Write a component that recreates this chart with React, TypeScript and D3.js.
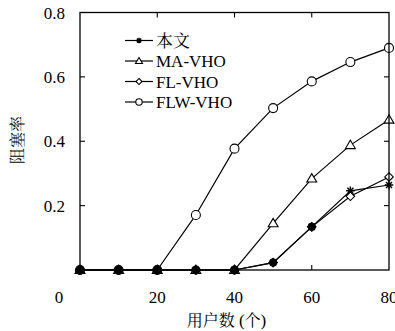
import React from 'react';
import * as d3 from 'd3';

const users = [0, 10, 20, 30, 40, 50, 60, 70, 80];
const ours = [0, 0, 0, 0, 0, 0.023, 0.134, 0.246, 0.264];
const maVho = [0, 0, 0, 0, 0, 0.145, 0.284, 0.388, 0.467];
const flVho = [0, 0, 0, 0, 0, 0.023, 0.134, 0.229, 0.289];
const flwVho = [0, 0, 0, 0.171, 0.377, 0.503, 0.586, 0.646, 0.69];
const seriesNames = ['本文', 'MA-VHO', 'FL-VHO', 'FLW-VHO'];
const markers = ['star', 'triangle', 'diamond', 'circle'];
const xTicks = [0, 20, 40, 60, 80];
const yTicks = [0.2, 0.4, 0.6, 0.8];

const serif = '"Liberation Serif"';
const cjk = '"Noto Serif CJK SC"';

const width = 395;
const height = 331;
const margin = { top: 12.5, right: 6, bottom: 61, left: 80 };

const x = d3.scaleLinear().domain([0, 80]).range([margin.left, width - margin.right]);
const y = d3.scaleLinear().domain([0, 0.8]).range([height - margin.bottom, margin.top]);

const Marker = ({ type, cx, cy, s }) => {
  if (type === 'circle') {
    return <circle cx={cx} cy={cy} r={s} fill="white" stroke="black" strokeWidth={1.1} />;
  }
  if (type === 'diamond') {
    const r = s * 0.95;
    return (
      <path d={`M${cx},${cy - r}L${cx + r},${cy}L${cx},${cy + r}L${cx - r},${cy}Z`}
        fill="white" stroke="black" strokeWidth={1.1} />
    );
  }
  if (type === 'triangle') {
    const r = s * 1.1;
    return (
      <path d={`M${cx},${cy - r}L${cx + r},${cy + r * 0.7}L${cx - r},${cy + r * 0.7}Z`}
        fill="white" stroke="black" strokeWidth={1.1} />
    );
  }
  const r = s * 0.95;
  const p = d3.path();
  for (let i = 0; i < 4; i++) {
    const a = (i * Math.PI) / 4;
    p.moveTo(cx - r * Math.cos(a), cy - r * Math.sin(a));
    p.lineTo(cx + r * Math.cos(a), cy + r * Math.sin(a));
  }
  return <path d={p.toString()} stroke="black" strokeWidth={1.4} />;
};

const App = () => {
  const all = [ours, maVho, flVho, flwVho];
  const line = d3.line<number>().x((_, i) => x(users[i])).y(d => y(d));

  // where several series overlap the marks fill in
  const blobs = [];
  users.forEach((u, i) => {
    const groups = d3.groups(all.map(s => s[i]), v => v.toFixed(3));
    groups.forEach(([key, members]) => {
      if (members.length >= 2) blobs.push({ u, v: +key, n: members.length });
    });
  });

  const tk = 5;

  return (
    <svg width={width} height={height}
      style={{ position: 'absolute', left: 0, top: 0, background: 'white' }}>
      {all.map((vals, si) => (
        <path key={si} d={line(vals)} fill="none" stroke="black" strokeWidth={1.2} />
      ))}
      {all.map((vals, si) => vals.map((v, i) => (
        <Marker key={`${si}-${i}`} type={markers[si]} cx={x(users[i])} cy={y(v)} s={4.5} />
      )))}
      {blobs.map((b, i) => (
        <circle key={i} cx={x(b.u)} cy={y(b.v)} r={b.n >= 3 ? 4.6 : 4} fill="black" />
      ))}

      <rect x={margin.left} y={margin.top}
        width={width - margin.right - margin.left}
        height={height - margin.bottom - margin.top}
        fill="none" stroke="black" strokeWidth={1.3} />

      <g stroke="black" strokeWidth={1.1}>
        {xTicks.slice(1, -1).map(t => (
          <g key={t}>
            <line x1={x(t)} x2={x(t)} y1={y(0)} y2={y(0) - tk} />
            <line x1={x(t)} x2={x(t)} y1={y(0.8)} y2={y(0.8) + tk} />
          </g>
        ))}
        {yTicks.slice(0, -1).map(t => (
          <g key={t}>
            <line x1={x(0)} x2={x(0) + tk} y1={y(t)} y2={y(t)} />
            <line x1={x(80)} x2={x(80) - tk} y1={y(t)} y2={y(t)} />
          </g>
        ))}
      </g>

      {xTicks.map(d => (
        <text key={d} x={d === 0 ? x(0) - 21 : x(d)} y={height - margin.bottom + 33}
          textAnchor="middle" fontFamily={serif} fontSize={17}>{String(d)}</text>
      ))}
      {yTicks.map(d => (
        <text key={d} x={margin.left - 15} y={y(d) + 6}
          textAnchor="end" fontFamily={serif} fontSize={17}>{d.toFixed(1)}</text>
      ))}

      <text x={x(40) - 8} y={326} textAnchor="middle" fontFamily={cjk} fontSize={16}>
        {'用户数\u00a0'}<tspan fontFamily={serif} fontSize={17}>(</tspan>个<tspan fontFamily={serif} fontSize={17}>)</tspan>
      </text>
      <text transform="translate(23,140) rotate(-90)" textAnchor="middle" fontFamily={cjk} fontSize={16}>
        阻塞率
      </text>

      {seriesNames.map((name, i) => {
        const ly = 40.5 + i * 20.5;
        return (
          <g key={name}>
            <line x1={125} x2={153} y1={ly} y2={ly} stroke="black" strokeWidth={1.2} />
            <Marker type={markers[i]} cx={139} cy={ly} s={i === 0 ? 3 : 3.2} />
            <text x={156} y={ly + 6} fontFamily={i === 0 ? cjk : serif} fontSize={17}>
              {name}
            </text>
          </g>
        );
      })}
    </svg>
  );
};

export default App;
